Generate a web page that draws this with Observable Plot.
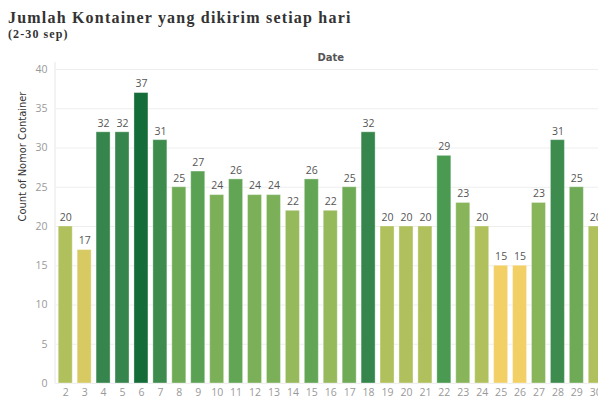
<!DOCTYPE html>
<html>
<head>
<meta charset="utf-8">
<script src="https://cdn.jsdelivr.net/npm/d3@7"></script>
<script src="https://cdn.jsdelivr.net/npm/@observablehq/plot@0.6"></script>
<style>
  html, body { margin: 0; padding: 0; background: #fff; overflow: hidden; width: 598px; height: 399px; }
  #head { height: 44px; padding-left: 8px; box-sizing: border-box; font-family: "Liberation Serif", "Times New Roman", serif; font-weight: bold; color: #333; white-space: nowrap; }
  #title { font-size: 16px; line-height: 16px; padding-top: 10px; letter-spacing: 1.2px; }
  #subtitle { font-size: 12px; line-height: 13px; padding-top: 2px; letter-spacing: 1.1px; }
  #chart svg { display: block; overflow: visible; max-width: none !important; }
</style>
</head>
<body>
<div id="head">
  <div id="title">Jumlah Kontainer yang dikirim setiap hari</div>
  <div id="subtitle">(2-30 sep)</div>
</div>
<div id="chart"></div>
<script>
// Days of September 2–30 and the number of containers sent each day
const days = ["2","3","4","5","6","7","8","9","10","11","12","13","14","15","16","17","18","19","20","21","22","23","24","25","26","27","28","29","30"];
const counts = [20,17,32,32,37,31,25,27,24,26,24,24,22,26,22,25,32,20,20,20,29,23,20,15,15,23,31,25,20];
const yTicks = [0,5,10,15,20,25,30,35,40];

// Gold-to-green ramp keyed to the count
const colorStops = [15,17,20,23,26,29,32,37];
const colorRamp = ["#f2d066","#d8ca62","#b0c05c","#88b55a","#62a555","#4a9a52","#36854c","#146c38"];

const data = days.map((d, i) => ({day: d, count: counts[i]}));

const chart = Plot.plot({
  width: 608,
  height: 355,
  marginTop: 25,
  marginBottom: 16,
  marginLeft: 55,
  marginRight: 2.5,
  style: {fontFamily: "'Open Sans', sans-serif", fontSize: "10.5px", background: "#fff"},
  x: {domain: days, paddingInner: 0.26, paddingOuter: 0.17, round: false, label: null},
  y: {domain: [0, 40], ticks: yTicks, label: null},
  color: {type: "linear", domain: colorStops, range: colorRamp},
  marks: [
    Plot.gridY(yTicks, {stroke: "#eee", strokeOpacity: 1}),
    Plot.axisY({ticks: yTicks, tickSize: 0, tickPadding: 8, fill: "#999", label: null}),
    Plot.axisX({tickSize: 0, tickPadding: 5, fill: "#999", label: null}),
    Plot.barY(data, {x: "day", y: "count", fill: "count", stroke: "#fff", strokeOpacity: 0.35, strokeWidth: 1}),
    Plot.text(data, {x: "day", y: "count", text: d => String(d.count), dy: -9, fill: "#555", fontSize: 10.5}),
    Plot.text(["Date"], {frameAnchor: "top", dy: -16, fill: "#555", fontWeight: "bold", fontSize: 10, fontFamily: "'DejaVu Sans', sans-serif"}),
    Plot.text(["Count of Nomor Container"], {frameAnchor: "left", rotate: -90, dx: -33, dy: -5, fill: "#333", fontSize: 11, fontFamily: "'Liberation Sans Narrow', 'DejaVu Sans Condensed', sans-serif"})
  ]
});

// Faint vertical axis line along the left edge of the plot
const xScale = chart.scale("x");
const yScale = chart.scale("y");
d3.select(chart).insert("line", ":first-child")
  .attr("x1", xScale.range[0]).attr("x2", xScale.range[0])
  .attr("y1", yScale.range[1] - 7).attr("y2", yScale.range[0])
  .attr("stroke", "#e6e6e6");

document.getElementById("chart").appendChild(chart);
</script>
</body>
</html>
